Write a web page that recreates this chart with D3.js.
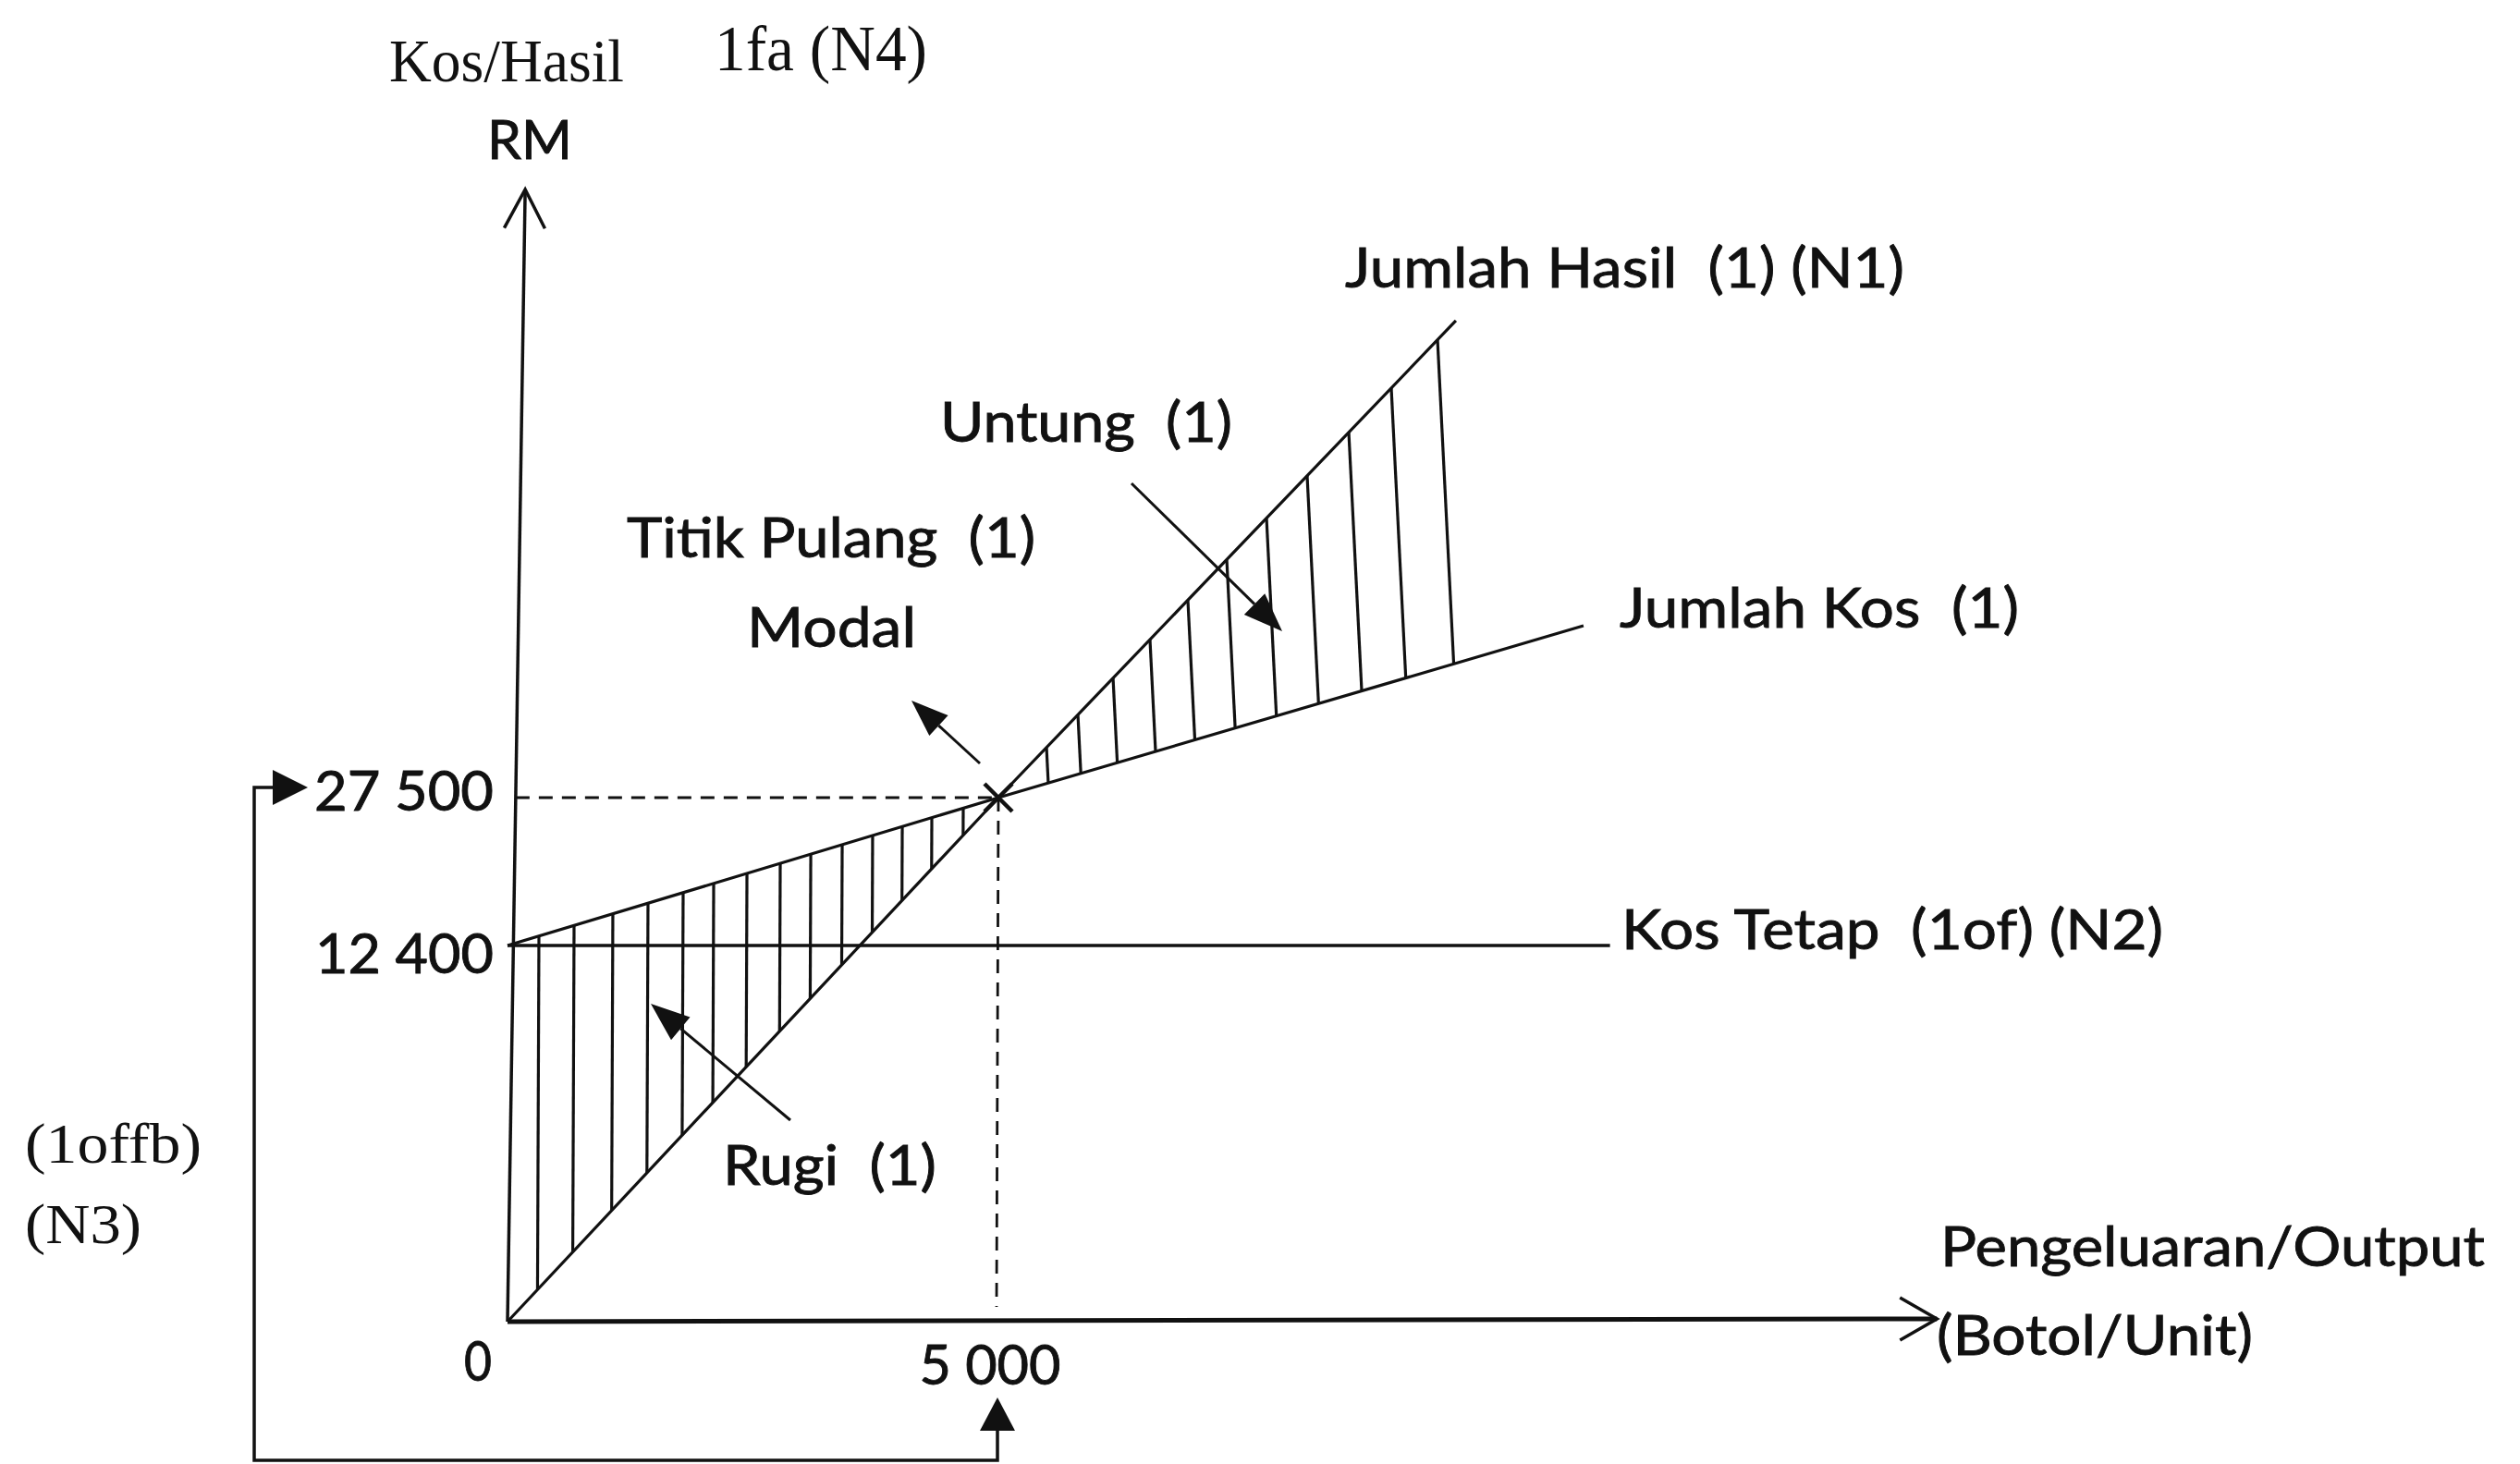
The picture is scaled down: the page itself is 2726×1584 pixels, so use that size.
<!DOCTYPE html>
<html><head><meta charset="utf-8">
<script src="https://cdn.jsdelivr.net/npm/d3@7"></script>
<style>
html,body{margin:0;padding:0;background:#fff;}
svg{display:block;}
text{white-space:pre;}
</style>
</head><body>
<svg id="chart" width="2726" height="1584"></svg>
<script>
// ---------------- DATA ----------------
const breakEvenUnits = 5000;
const breakEvenRM = 27500;
const fixedCostRM = 12400;
const yTickValues = [12400, 27500];
const yTickLabels = ["12 400", "27 500"];
const xTickValues = [0, 5000];
const xTickLabels = ["0", "5 000"];
// lines: [units, RM]
const fixedCostLine = [[0, 12400], [11230, 12400]];
const totalCostLine = [[0, 12400], [5000, 27500], [10960, 45050]];
const totalRevenueLine = [[0, 0], [5000, 27500], [9660, 76200]];
// hatch positions (units)
const lossHatchUnits = [320, 678, 1073, 1431, 1789, 2100, 2439, 2778, 3089, 3409, 3719, 4021, 4322, 4642];
const profitHatchUnits = [5490, 5810, 6168, 6544, 6930, 7326, 7731, 8145, 8569, 9002, 9473];
const xAxisMax = 14560;
const yAxisMax = 89600;
const yAxisTopUnits = 180;

// ---------------- LAYOUT ----------------
const W = 2726, H = 1584;
const SANS = "Lato, 'Open Sans', sans-serif";
const SERIF = "'Liberation Serif', 'DejaVu Serif', serif";
const INK = "#111";
const svg = d3.select("#chart");

const x = d3.scaleLinear().domain([0, breakEvenUnits]).range([549, 1080]);
const y = d3.scaleLinear().domain([0, fixedCostRM, breakEvenRM]).range([1430, 1023, 863]);

const line = d3.line().x(d => x(d[0])).y(d => y(d[1]));
const toPx = arr => arr.map(d => [x(d[0]), y(d[1])]);

function polyY(pts, px) {
  for (let i = 0; i < pts.length - 1; i++) {
    const a = pts[i], b = pts[i + 1];
    if (px <= b[0] || i === pts.length - 2) {
      const t = (px - a[0]) / (b[0] - a[0]);
      return a[1] + t * (b[1] - a[1]);
    }
  }
}

const g = svg.append("g");

// ---- hatching ----
const tcPx = toPx(totalCostLine), trPx = toPx(totalRevenueLine);
function hatch(units, upper, lower, lean) {
  const xt = x(units), yt = polyY(upper, xt);
  let t = polyY(lower, xt) - yt;
  for (let k = 0; k < 6; k++) t = polyY(lower, xt + lean * t) - yt;
  return [[xt, yt], [xt + lean * t, yt + t]];
}
g.selectAll("line.loss").data(lossHatchUnits).join("line")
  .attr("class", "loss")
  .each(function (u) {
    const s = hatch(u, tcPx, trPx, -0.004);
    d3.select(this).attr("x1", s[0][0]).attr("y1", s[0][1]).attr("x2", s[1][0]).attr("y2", s[1][1]);
  })
  .attr("stroke", INK).attr("stroke-width", 3.2);
g.selectAll("line.profit").data(profitHatchUnits).join("line")
  .attr("class", "profit")
  .each(function (u) {
    const s = hatch(u, trPx, tcPx, 0.05);
    d3.select(this).attr("x1", s[0][0]).attr("y1", s[0][1]).attr("x2", s[1][0]).attr("y2", s[1][1]);
  })
  .attr("stroke", INK).attr("stroke-width", 3.2);

// ---- dashed guides ----
const axisTop = [x(yAxisTopUnits), y(yAxisMax)];
const axisBottom = [x(0), y(0)];
const axisXAt = py => axisBottom[0] + (axisTop[0] - axisBottom[0]) * (py - axisBottom[1]) / (axisTop[1] - axisBottom[1]);
g.append("line")
  .attr("x1", axisXAt(y(breakEvenRM))).attr("y1", y(breakEvenRM))
  .attr("x2", x(breakEvenUnits)).attr("y2", y(breakEvenRM))
  .attr("stroke", INK).attr("stroke-width", 2.8).attr("stroke-dasharray", "15,10");
g.append("line")
  .attr("x1", x(breakEvenUnits)).attr("y1", y(breakEvenRM))
  .attr("x2", x(breakEvenUnits) - 2).attr("y2", y(0) - 16)
  .attr("stroke", INK).attr("stroke-width", 2.8).attr("stroke-dasharray", "15,10");

// ---- lines ----
g.append("path").attr("d", line(fixedCostLine)).attr("fill", "none").attr("stroke", INK).attr("stroke-width", 3.5);
g.append("path").attr("d", line(totalCostLine)).attr("fill", "none").attr("stroke", INK).attr("stroke-width", 3.2);
g.append("path").attr("d", line(totalRevenueLine)).attr("fill", "none").attr("stroke", INK).attr("stroke-width", 3.2);

// ---- axes ----
function openHead(tip, from, len, hw) {
  const dx = tip[0] - from[0], dy = tip[1] - from[1], L = Math.hypot(dx, dy);
  const ux = dx / L, uy = dy / L, nx = -uy, ny = ux;
  const bx = tip[0] - ux * len, by = tip[1] - uy * len;
  return `M${bx + nx * hw},${by + ny * hw}L${tip[0]},${tip[1]}L${bx - nx * hw},${by - ny * hw}`;
}
function filledArrow(from, tip, len, hw, sw) {
  const dx = tip[0] - from[0], dy = tip[1] - from[1], L = Math.hypot(dx, dy);
  const ux = dx / L, uy = dy / L, nx = -uy, ny = ux;
  const bx = tip[0] - ux * len, by = tip[1] - uy * len;
  g.append("line").attr("x1", from[0]).attr("y1", from[1]).attr("x2", bx).attr("y2", by)
    .attr("stroke", INK).attr("stroke-width", sw);
  g.append("path").attr("d", `M${tip[0]},${tip[1]}L${bx + nx * hw},${by + ny * hw}L${bx - nx * hw},${by - ny * hw}Z`)
    .attr("fill", INK);
}
g.append("line").attr("x1", axisBottom[0]).attr("y1", axisBottom[1]).attr("x2", axisTop[0]).attr("y2", axisTop[1])
  .attr("stroke", INK).attr("stroke-width", 3.5);
g.append("path").attr("d", openHead(axisTop, axisBottom, 42, 22)).attr("fill", "none").attr("stroke", INK).attr("stroke-width", 3.5);
const xEnd = [x(xAxisMax), y(0) - 3];
g.append("line").attr("x1", x(0)).attr("y1", y(0)).attr("x2", xEnd[0]).attr("y2", xEnd[1])
  .attr("stroke", INK).attr("stroke-width", 5);
g.append("path").attr("d", openHead(xEnd, [x(0), y(0)], 40, 23)).attr("fill", "none").attr("stroke", INK).attr("stroke-width", 3.5);

// ---- break-even cross ----
const bx = x(breakEvenUnits), by = y(breakEvenRM), c = 15;
g.append("path").attr("d", `M${bx - c},${by - c}L${bx + c},${by + c}M${bx - c},${by + c}L${bx + c},${by - c}`)
  .attr("stroke", INK).attr("stroke-width", 4.5);

// ---- tick labels ----
const tickFont = 60;
const yTickLayout = [{dy: 30, w: 193}, {dy: 14, w: 194}];
yTickValues.forEach((v, i) => {
  g.append("text").attr("x", x(0) - 15).attr("y", y(v) + yTickLayout[i].dy)
    .attr("text-anchor", "end").attr("font-family", SANS).attr("font-size", tickFont)
    .attr("textLength", yTickLayout[i].w).attr("lengthAdjust", "spacingAndGlyphs")
    .attr("fill", INK).attr("stroke", INK).attr("stroke-width", 0.9).text(yTickLabels[i]);
});
const xTickLayout = [{dx: -32, dy: 64, w: 30}, {dx: -9, dy: 68, w: 153}];
xTickValues.forEach((v, i) => {
  g.append("text").attr("x", x(v) + xTickLayout[i].dx).attr("y", y(0) + xTickLayout[i].dy)
    .attr("text-anchor", "middle").attr("font-family", SANS).attr("font-size", tickFont)
    .attr("textLength", xTickLayout[i].w).attr("lengthAdjust", "spacingAndGlyphs")
    .attr("fill", INK).attr("stroke", INK).attr("stroke-width", 0.9).text(xTickLabels[i]);
});

// ---- bracket arrows (N3) ----
const brX = 275, brBottom = 1580;
const leftArrowY = y(breakEvenRM) - 11;
const upArrowX = x(breakEvenUnits) - 1;
g.append("path")
  .attr("d", `M${brX + 20},${leftArrowY}L${brX},${leftArrowY}L${brX},${brBottom}L${upArrowX},${brBottom}L${upArrowX},${y(0) + 117}`)
  .attr("fill", "none").attr("stroke", INK).attr("stroke-width", 3.5);
g.append("path").attr("d", `M${brX + 58},${leftArrowY}L${brX + 20},${leftArrowY - 19}L${brX + 20},${leftArrowY + 19}Z`).attr("fill", INK);
g.append("path").attr("d", `M${upArrowX},${y(0) + 82}L${upArrowX - 19},${y(0) + 118}L${upArrowX + 19},${y(0) + 118}Z`).attr("fill", INK);

// ---- annotation arrows ----
filledArrow([1060, 826], [986, 758], 40, 15, 3);
filledArrow([1224, 523], [1387, 683], 42, 16, 3);
filledArrow([855, 1212], [704, 1086], 42, 16, 3);

// ---- text labels ----
const labels = [
  {t: "Kos/Hasil", f: SERIF, s: 65, x: 421, y: 88, w: 254},
  {t: "1fa (N4)", f: SERIF, s: 70, x: 773, y: 76, w: 230},
  {t: "RM", f: SANS, s: 58, x: 527, y: 172, w: 92},
  {t: "Jumlah Hasil  (1) (N1)", f: SANS, s: 60, x: 1455, y: 311, w: 605},
  {t: "Untung  (1)", f: SANS, s: 60, x: 1017, y: 478, w: 316},
  {t: "Titik Pulang  (1)", f: SANS, s: 60, x: 678, y: 603, w: 442},
  {t: "Modal", f: SANS, s: 60, x: 808, y: 700, w: 183},
  {t: "Jumlah Kos  (1)", f: SANS, s: 60, x: 1752, y: 679, w: 432},
  {t: "Kos Tetap  (1of) (N2)", f: SANS, s: 60, x: 1754, y: 1027, w: 586},
  {t: "Rugi  (1)", f: SANS, s: 60, x: 782, y: 1282, w: 231},
  {t: "Pengeluaran/Output", f: SANS, s: 60, x: 2099, y: 1370, w: 589},
  {t: "(Botol/Unit)", f: SANS, s: 60, x: 2095, y: 1466, w: 342},
  {t: "(1offb)", f: SERIF, s: 62, x: 27, y: 1258, w: 191},
  {t: "(N3)", f: SERIF, s: 62, x: 27, y: 1345, w: 126}
];
g.selectAll("text.lbl").data(labels).join("text")
  .attr("class", "lbl")
  .attr("x", d => d.x).attr("y", d => d.y)
  .attr("font-family", d => d.f).attr("font-size", d => d.s)
  .attr("textLength", d => d.w).attr("lengthAdjust", "spacingAndGlyphs")
  .attr("fill", INK)
  .attr("stroke", d => d.f === SANS ? INK : "none")
  .attr("stroke-width", 0.9)
  .text(d => d.t);
</script>
</body></html>
